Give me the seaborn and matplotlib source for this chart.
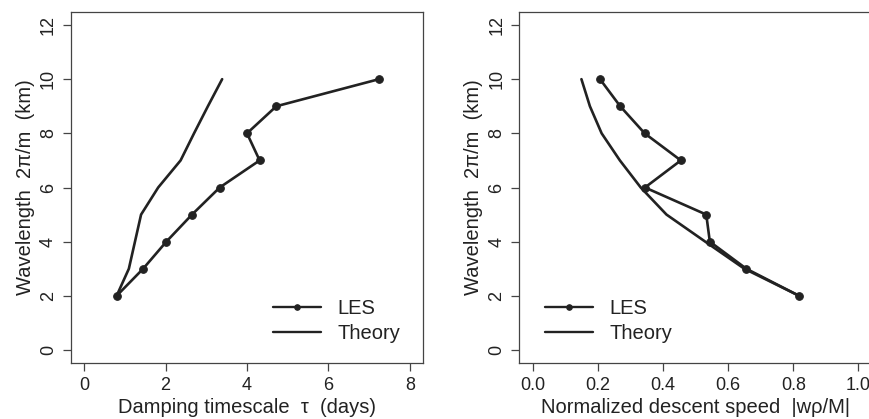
import matplotlib
matplotlib.use("Agg")
import matplotlib.pyplot as plt
import seaborn as sns
import pandas as pd

sns.set_style("ticks")
plt.rcParams["font.family"] = ["Liberation Sans", "DejaVu Sans"]

INK = "#222222"

# wavelength levels (km)
wavelength = [2, 3, 4, 5, 6, 7, 8, 9, 10]

# left panel: damping timescale (days)
les_tau = [0.80, 1.45, 2.02, 2.65, 3.33, 4.31, 4.00, 4.72, 7.24]
theory_tau = [0.80, 1.10, 1.25, 1.40, 1.82, 2.37, 2.70, 3.04, 3.39]

# right panel: normalized descent speed
les_speed = [0.818, 0.656, 0.544, 0.533, 0.345, 0.455, 0.344, 0.269, 0.207]
theory_speed = [0.818, 0.650, 0.530, 0.411, 0.332, 0.268, 0.212, 0.176, 0.150]

left = pd.DataFrame({"wl": wavelength, "les": les_tau, "theory": theory_tau})
right = pd.DataFrame({"wl": wavelength, "les": les_speed, "theory": theory_speed})

fig = plt.figure(figsize=(8.7, 4.19), dpi=100)
ax1 = fig.add_axes([71 / 870, 56 / 419, 352 / 870, 351 / 419])
ax2 = fig.add_axes([519.5 / 870, 56 / 419, 352 / 870, 351 / 419])


def draw_panel(ax, df, xlim, xticks, xticklabels, xlabel, legend_loc, legend_anchor):
    sns.lineplot(data=df, x="les", y="wl", ax=ax, sort=False, estimator=None,
                 color=INK, linewidth=1.9, marker="o", markersize=5.5,
                 markeredgecolor=INK, label="LES")
    sns.lineplot(data=df, x="theory", y="wl", ax=ax, sort=False, estimator=None,
                 color=INK, linewidth=1.9, label="Theory")
    pad = 0.04 * (xlim[1] - xlim[0])
    ax.set_xlim(xlim[0] - pad, xlim[1] + pad)
    ax.set_ylim(-0.48, 12.48)
    ax.set_xticks(xticks)
    ax.set_xticklabels(xticklabels)
    ax.set_yticks([0, 2, 4, 6, 8, 10, 12])
    ax.set_yticklabels(["0", "2", "4", "6", "8", "10", "12"], rotation=90, va="center")
    ax.tick_params(direction="out", length=6, width=0.9, colors="#444444",
                   labelsize=13, labelcolor=INK, pad=4)
    for s in ax.spines.values():
        s.set_color("#444444")
        s.set_linewidth(0.9)
    ax.set_xlabel(xlabel, fontsize=14.5, color=INK, labelpad=3)
    ax.set_ylabel("Wavelength  2\u03c0/m  (km)", fontsize=14.5, color=INK, labelpad=4)
    leg = ax.legend(loc=legend_loc, bbox_to_anchor=legend_anchor, frameon=False,
                    fontsize=14.5, handlelength=2.4, handletextpad=0.8,
                    labelspacing=0.3, labelcolor=INK)
    for h in leg.legend_handles:
        h.set_linewidth(1.7)
        h.set_markersize(4)


draw_panel(ax1, left, (0, 8), [0, 2, 4, 6, 8], ["0", "2", "4", "6", "8"],
           "Damping timescale  \u03c4  (days)", "lower right", (0.986, 0.005))
draw_panel(ax2, right, (0, 1), [0, 0.2, 0.4, 0.6, 0.8, 1.0],
           ["0.0", "0.2", "0.4", "0.6", "0.8", "1.0"],
           "Normalized descent speed  |w\u03c1/M|", "lower left", (0.02, 0.005))

fig.savefig("out.png", dpi=100)
